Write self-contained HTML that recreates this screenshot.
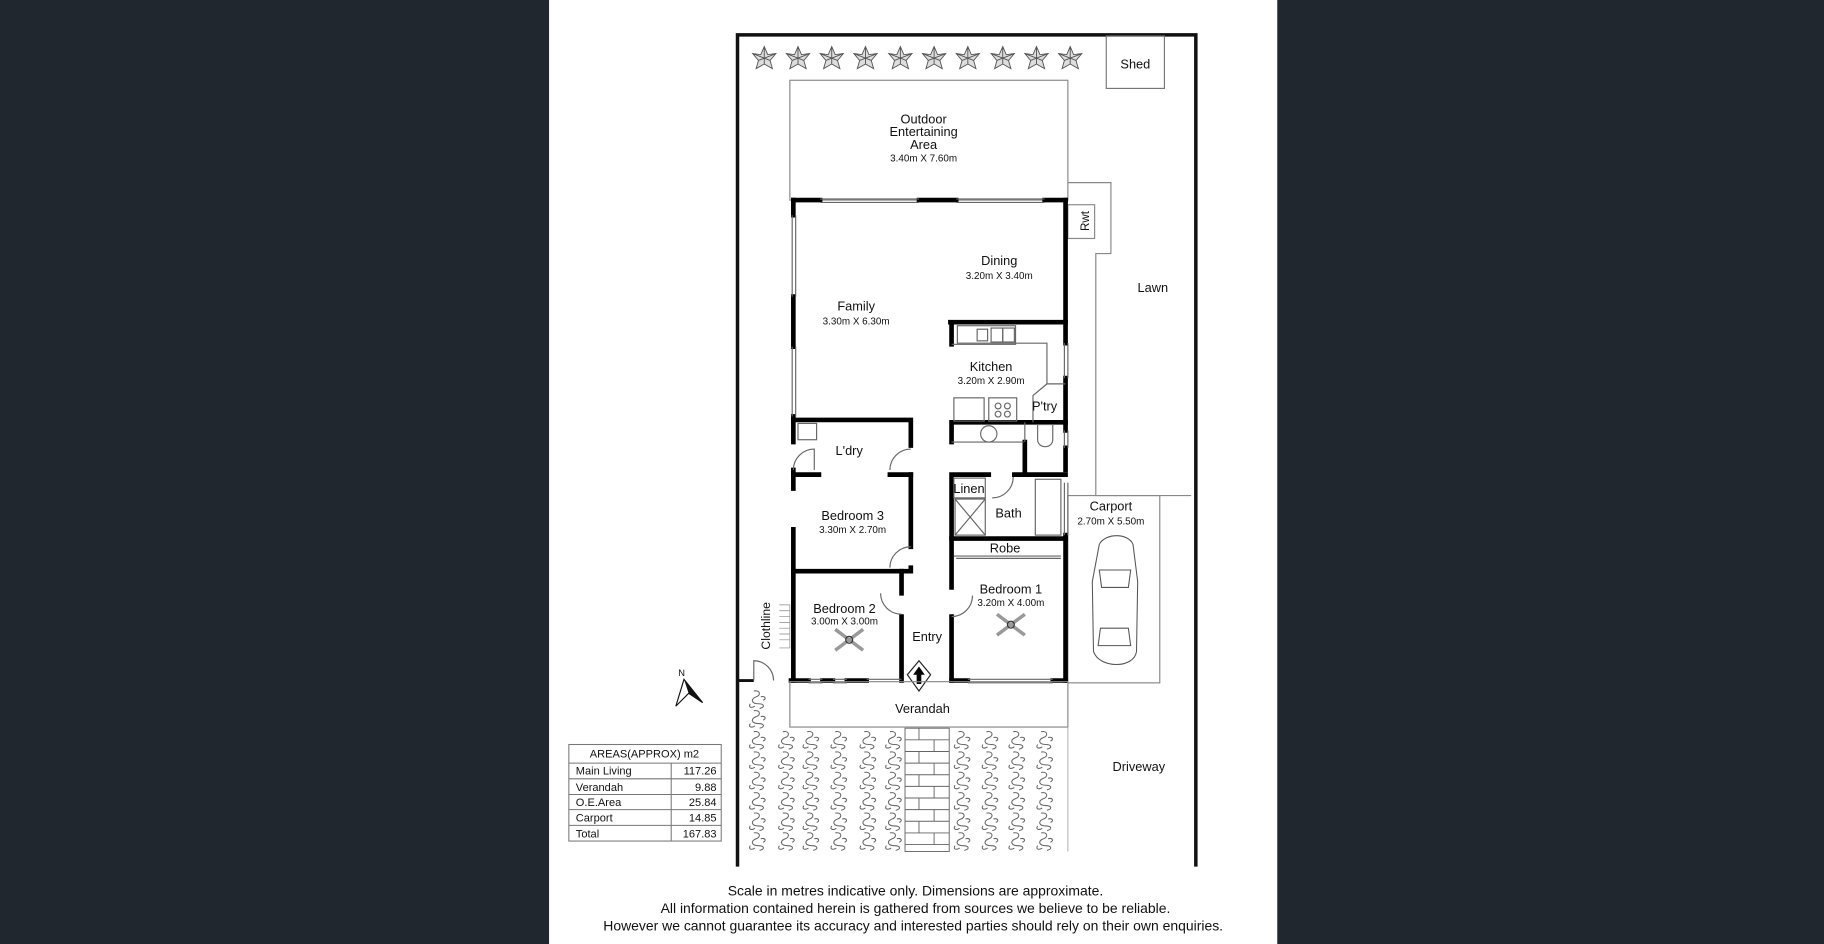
<!DOCTYPE html>
<html><head><meta charset="utf-8"><style>
html,body{margin:0;padding:0;background:#21272f;}
svg{display:block}
text{font-family:"Liberation Sans",sans-serif;fill:#111;text-anchor:middle}
</style></head><body>
<svg width="1824" height="944" viewBox="0 0 1568 811.5" preserveAspectRatio="none" xmlns="http://www.w3.org/2000/svg">
<defs>
<g id="tr"><path d="M0,-10 L3,-3 L10,-4 L5,2 L7,9 L0,5 L-7,9 L-5,2 L-10,-4 L-3,-3Z M0,-10 L0,5 M-10,-4 L5,2 M10,-4 L-5,2" fill="#ddd" stroke="#555" stroke-width="0.8"/></g>
<g id="pl" fill="none" stroke="#666" stroke-width="0.9"><path d="M-3,-7 C3,-8 3,-3 -1,-2 C-6,0 -5,4 1,4 C6,4 7,7 2,8 M-6,4 C-8,7 -5,8 -2,6 M3,-2 C7,-3 8,0 5,1"/></g>
</defs>
<rect x="0" y="0" width="1568" height="811.5" fill="#21272f"/>
<rect x="472" y="0" width="626" height="811.5" fill="#fff"/>

<g stroke="#111" fill="none">
<path d="M634,745 L634,30 L1028,30 L1028,745" stroke-width="3"/>
<path d="M634,585 L648,585" stroke-width="2.5"/>
</g>
<rect x="951" y="31" width="50" height="45" fill="none" stroke="#777" stroke-width="1"/>
<text x="976" y="59" font-size="11">Shed</text>
<use href="#tr" x="657" y="50"/><use href="#tr" x="686" y="50"/><use href="#tr" x="715" y="50"/><use href="#tr" x="744" y="50"/><use href="#tr" x="774" y="50"/><use href="#tr" x="803" y="50"/><use href="#tr" x="832" y="50"/><use href="#tr" x="862" y="50"/><use href="#tr" x="891" y="50"/><use href="#tr" x="920" y="50"/>

<rect x="679" y="69" width="239" height="103" fill="none" stroke="#888" stroke-width="1"/>
<text x="794" y="106" font-size="11">Outdoor</text>
<text x="794" y="117" font-size="11">Entertaining</text>
<text x="794" y="128" font-size="11">Area</text>
<text x="794" y="139" font-size="8.5">3.40m X 7.60m</text>

<g fill="none" stroke="#888" stroke-width="1">
<path d="M918,157 L955,157 L955,218 L942,218 L942,426 L1024,426"/>
<rect x="918" y="426" width="79" height="161"/>
<rect x="918" y="176" width="23" height="29"/>
</g>
<text transform="translate(933,190) rotate(-90)" font-size="10" dy="3">Rwt</text>
<text x="991" y="251" font-size="11">Lawn</text>

<g stroke="#000" stroke-width="4" fill="none" stroke-linecap="square">
<path d="M682,172 L705,172 M790,172 L822,172 M898,172 L916,172"/>
<path d="M916,172 L916,295 M916,325 L916,370 M916,385 L916,404 M916,460 L916,585"/>
<path d="M682,172 L682,185 M682,255 L682,298 M682,358 L682,380 M682,404 L682,420 M682,455 L682,585"/>
<path d="M817,277 L916,277 M818,277 L818,296"/>
<path d="M818,363 L916,363 M818,363 L818,380"/>
<path d="M682,361 L783,361 L783,383"/>
<path d="M682,408 L704,408 M765,408 L783,408"/>
<path d="M783,408 L783,470 M783,488 L783,491 M682,491 L783,491"/>
<path d="M775,491 L775,510 M775,530 L775,585"/>
<path d="M818,408 L850,408 M872,408 L916,408 M818,408 L818,505 M818,530 L818,585"/>
<path d="M818,463 L916,463"/>
<path d="M680,585 L695,585 M707,585 L716,585 M728,585 L745,585 M818,585 L832,585 M905,585 L916,585"/>
<path d="M881,380 L881,408"/>
</g>
<g stroke="#666" stroke-width="1" fill="none">
<path d="M705,171 L790,171 M705,174 L790,174 M822,171 L898,171 M822,174 L898,174"/>
<path d="M681,185 L681,255 M684,185 L684,255 M681,298 L681,358 M684,298 L684,358"/>
<path d="M915,295 L915,325 M918,295 L918,325 M915,370 L915,385 M918,370 L918,385 M915,415 L915,460 M918,415 L918,460"/>
<path d="M695,584 L707,584 M695,587 L707,587 M716,584 L728,584 M716,587 L728,587 M832,584 L905,584 M832,587 L905,587 M745,584 L775,584"/>
<path d="M822,480 L912,480 M820,478 L912,478"/>
<path d="M818,380 L880,380 M881,363 L881,380"/>
<path d="M682,404 A18,18 0 0 1 700,386 L700,404"/>
<path d="M765,404 A18,18 0 0 1 783,386"/>
<path d="M765,488 A18,18 0 0 1 783,470"/>
<path d="M757,510 A18,18 0 0 0 775,528"/>
<path d="M836,512 A18,18 0 0 1 818,530"/>
<path d="M853,428 A18,18 0 0 0 871,410"/>
<path d="M648,585 L648,568 A17,17 0 0 1 665,585"/>
<rect x="823" y="280" width="50" height="15"/>
<rect x="840" y="283" width="9" height="10"/><rect x="852" y="282" width="10" height="12"/><rect x="862" y="282" width="10" height="12"/>
<path d="M873,295 L873,296 L818,296 M873,295 L900,295 L900,330 L916,330"/>
<path d="M900,330 L888,340 L888,363"/>
<rect x="820" y="342" width="26" height="20"/><rect x="850" y="342" width="24" height="20"/>
<circle cx="858" cy="349" r="2.5"/><circle cx="866" cy="349" r="2.5"/><circle cx="858" cy="356" r="2.5"/><circle cx="866" cy="356" r="2.5"/>
<circle cx="850" cy="373" r="7"/>
<path d="M892,365 L905,365 L905,378 A6.5,6 0 0 1 892,378Z"/>
<rect x="686" y="364" width="16" height="14"/>
<rect x="821" y="429" width="26" height="31"/><path d="M821,429 L847,460 M847,429 L821,460"/>
<rect x="820" y="411" width="27" height="17"/>
<rect x="890" y="412" width="22" height="48"/>
<path d="M718,541 L742,559 M742,541 L718,559" stroke-width="3" stroke="#999"/>
<path d="M857,528 L881,546 M881,528 L857,546" stroke-width="3" stroke="#999"/>
</g>
<circle cx="730" cy="550" r="3" fill="none" stroke="#333"/>
<circle cx="869" cy="537" r="3" fill="none" stroke="#333"/>

<g font-size="11">
<text x="859" y="228">Dining</text>
<text x="736" y="267">Family</text>
<text x="852" y="319">Kitchen</text>
<text x="898" y="353">P'try</text>
<text x="730" y="391">L'dry</text>
<text x="733" y="447">Bedroom 3</text>
<text x="726" y="527">Bedroom 2</text>
<text x="869" y="510">Bedroom 1</text>
<text x="864" y="475">Robe</text>
<text x="833" y="424">Linen</text>
<text x="867" y="445">Bath</text>
<text x="797" y="551">Entry</text>
<text x="793" y="613">Verandah</text>
<text x="955" y="439">Carport</text>
<text x="979" y="663">Driveway</text>
</g>
<g font-size="8.5">
<text x="859" y="240">3.20m X 3.40m</text>
<text x="736" y="279">3.30m X 6.30m</text>
<text x="852" y="330">3.20m X 2.90m</text>
<text x="733" y="458">3.30m X 2.70m</text>
<text x="726" y="537">3.00m X 3.00m</text>
<text x="869" y="521">3.20m X 4.00m</text>
<text x="955" y="451">2.70m X 5.50m</text>
</g>
<text transform="translate(662,538) rotate(-90)" font-size="10.5">Clothline</text>
<g stroke="#888" stroke-width="0.6" fill="none"><path d="M670,520 L679,520 L679,557 L670,557 M670,525 L679,525 M670,530 L679,530 M670,535 L679,535 M670,540 L679,540 M670,545 L679,545 M670,550 L679,550"/></g>

<path d="M790,568 L800,580 L790,594 L780,580Z" fill="#fff" stroke="#222"/>
<path d="M790,573 L795,580 L792,580 L792,588 L788,588 L788,580 L785,580Z" fill="#000"/>

<rect x="679" y="586" width="239" height="39" fill="none" stroke="#888"/>
<g fill="none" stroke="#555" stroke-width="0.9">
<path d="M945,468 C950,458 970,458 974,468 L978,500 L977,560 C975,575 945,575 940,560 L939,500Z"/>
<path d="M945,490 L972,490 L970,505 L947,505Z M946,540 L970,540 L972,555 L944,555Z"/>
</g>

<text x="586" y="581" font-size="8">N</text>
<path d="M588,584 L581,607 L592,596 L604,604Z" fill="#fff" stroke="#111"/>
<path d="M588,584 L592,596 L604,604Z" fill="#111"/>

<use href="#pl" x="651" y="601"/><use href="#pl" x="651" y="618"/>
<g id="prow">
<use href="#pl" x="651" y="636"/><use href="#pl" x="676" y="636"/><use href="#pl" x="697" y="636"/><use href="#pl" x="721" y="636"/><use href="#pl" x="746" y="636"/><use href="#pl" x="768" y="636"/><use href="#pl" x="827" y="636"/><use href="#pl" x="851" y="636"/><use href="#pl" x="874" y="636"/><use href="#pl" x="898" y="636"/>
</g>
<use href="#prow" y="17.5"/><use href="#prow" y="35"/><use href="#prow" y="52.5"/><use href="#prow" y="70"/><use href="#prow" y="87"/>
<g fill="none" stroke="#666" stroke-width="0.8">
<rect x="778" y="626" width="38" height="106"/>
<path d="M778,636 L816,636 M778,646 L816,646 M778,656 L816,656 M778,666 L816,666 M778,676 L816,676 M778,686 L816,686 M778,696 L816,696 M778,706 L816,706 M778,716 L816,716 M778,726 L816,726"/>
<path d="M790,626 L790,636 M803,636 L803,646 M790,646 L790,656 M803,656 L803,666 M790,666 L790,676 M803,676 L803,686 M790,686 L790,696 M803,696 L803,706 M790,706 L790,716 M803,716 L803,726"/>
</g>
<path d="M918,625 L918,732" stroke="#aaa" stroke-width="0.8"/>

<g fill="none" stroke="#777" stroke-width="0.9">
<rect x="489" y="640" width="131" height="83"/>
<path d="M489,656 L620,656 M489,669.5 L620,669.5 M489,683 L620,683 M489,696 L620,696 M489,709.5 L620,709.5 M577,656 L577,723"/>
</g>
<g font-size="9.5">
<text x="554" y="651">AREAS(APPROX) m2</text>
<text x="495" y="666" style="text-anchor:start">Main Living</text>
<text x="495" y="680" style="text-anchor:start">Verandah</text>
<text x="495" y="693" style="text-anchor:start">O.E.Area</text>
<text x="495" y="706" style="text-anchor:start">Carport</text>
<text x="495" y="720" style="text-anchor:start">Total</text>
<text x="616" y="666" style="text-anchor:end">117.26</text>
<text x="616" y="680" style="text-anchor:end">9.88</text>
<text x="616" y="693" style="text-anchor:end">25.84</text>
<text x="616" y="706" style="text-anchor:end">14.85</text>
<text x="616" y="720" style="text-anchor:end">167.83</text>
</g>

<g font-size="12">
<text x="787" y="770">Scale in metres indicative only. Dimensions are approximate.</text>
<text x="787" y="785">All information contained herein is gathered from sources we believe to be reliable.</text>
<text x="785" y="800">However we cannot guarantee its accuracy and interested parties should rely on their own enquiries.</text>
</g>
</svg>
</body></html>
